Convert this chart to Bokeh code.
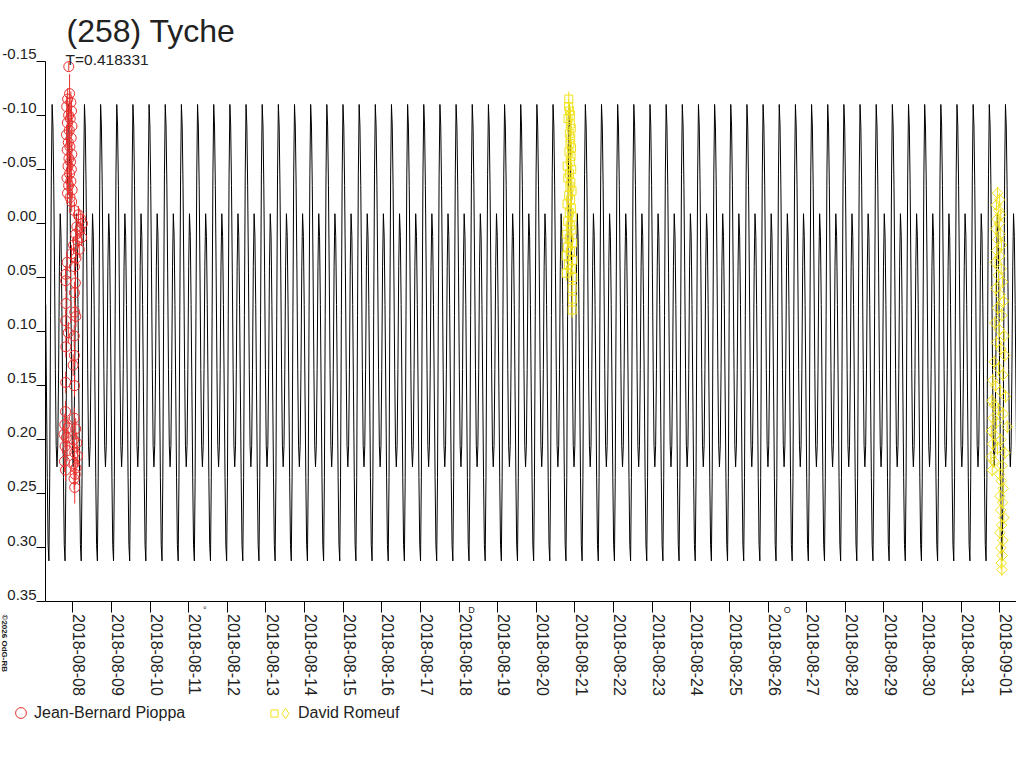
import math
import datetime as dt

from bokeh.plotting import figure
from bokeh.models import (Range1d, FixedTicker, DatetimeAxis, LinearAxis,
                          DatetimeTickFormatter, Label, Legend, LegendItem)
from bokeh.embed import file_html
from bokeh.resources import INLINE

# ---------------- data ----------------
title_text = "(258) Tyche"
period_label = "T=0.418331"
period_days = 0.418331
copyright_text = "\u00a92026 OdG-RB"

# folded model light curve (one rotation, tall maximum at phase 0)
model_epoch = dt.datetime(2018, 8, 8, 17, 17)
model_phase = [0.00, 0.05, 0.10, 0.15, 0.20, 0.25, 0.30, 0.35, 0.40, 0.45,
               0.50, 0.55, 0.60, 0.65, 0.70, 0.75, 0.80, 0.85, 0.90, 0.95]
model_mag = [-0.110, -0.090, -0.035, 0.045, 0.135, 0.205, 0.225, 0.205, 0.135, 0.040,
             -0.009, 0.012, 0.075, 0.155, 0.235, 0.297, 0.312, 0.235, 0.085, -0.045]

# Jean-Bernard Pioppa (hours from 2018-08-08 00:00 UT)
pioppa_base = dt.datetime(2018, 8, 8)
pioppa_hours = [-2.5, -2.0, -3.2, -1.2, -3.8, -0.8, -2.6, -1.6, -3.4, -0.5,
                -2.2, -3.9, -1.0, -2.8, -1.8, -3.5, -0.6, -2.4, -1.4, -3.0,
                -0.9, -2.0, -3.6, -1.2, -2.6, -0.4, -3.3, -1.7, -0.7,
                1.0, 3.5, 5.0, 6.0, 2.5, 4.5, 1.8, 5.5, 3.0, 0.5,
                4.0, -0.8, 2.0, -3.5, 1.0, -4.4,
                -4.4, 1.6, 1.0, -4.2, 1.2, 1.9, -4.4, -2.8, 0.9, -4.3,
                1.0, 0.2, -4.4, 1.1, -4.5, 0.9, -5.0, -3.0, 1.8, -5.5,
                -4.0, 0.5, 2.5, -4.8, -3.5, 1.2, 3.0, -5.2, 0.8, 2.0,
                -4.5, 1.5, 0.8, 1.2]
pioppa_mag = [-0.145, -0.120, -0.115, -0.112, -0.108, -0.104, -0.100, -0.097, -0.093, -0.090,
              -0.086, -0.082, -0.079, -0.075, -0.071, -0.068, -0.064, -0.060, -0.057, -0.053,
              -0.050, -0.046, -0.042, -0.039, -0.035, -0.031, -0.028, -0.024, -0.020,
              -0.012, -0.008, -0.004, 0.000, 0.003, 0.006, 0.010, 0.013, 0.016, 0.020,
              0.024, 0.028, 0.032, 0.036, 0.040, 0.047,
              0.053, 0.055, 0.064, 0.074, 0.082, 0.086, 0.090, 0.101, 0.104, 0.114,
              0.122, 0.131, 0.147, 0.150, 0.174, 0.180, 0.186, 0.189, 0.190, 0.195,
              0.198, 0.200, 0.203, 0.206, 0.210, 0.212, 0.215, 0.220, 0.222, 0.226,
              0.228, 0.232, 0.236, 0.244]
pioppa_err = [0.004, 0.018, 0.010, 0.010, 0.010, 0.010, 0.009, 0.009, 0.009, 0.009,
              0.009, 0.009, 0.009, 0.009, 0.009, 0.009, 0.009, 0.009, 0.009, 0.009,
              0.009, 0.009, 0.009, 0.009, 0.009, 0.009, 0.009, 0.009, 0.009,
              0.008, 0.008, 0.008, 0.008, 0.008, 0.008, 0.008, 0.008, 0.008, 0.008,
              0.008, 0.008, 0.008, 0.008, 0.008, 0.008,
              0.010, 0.010, 0.010, 0.010, 0.010, 0.010, 0.010, 0.010, 0.010, 0.010,
              0.010, 0.010, 0.010, 0.010, 0.010, 0.010, 0.010, 0.010, 0.010, 0.010,
              0.010, 0.010, 0.010, 0.010, 0.010, 0.010, 0.010, 0.010, 0.010, 0.010,
              0.010, 0.010, 0.010, 0.015]

# David Romeuf, night 1 (hours from 2018-08-21 00:00 UT) - squares
romeuf1_base = dt.datetime(2018, 8, 21)
romeuf1_hours = [-3.8, -3.9, -3.3, -2.8, -4.3, -2.9, -2.3, -3.5, -2.6, -3.1,
                 -2.1, -3.7, -2.4, -2.9, -4.8, -2.0, -3.4, -4.4, -2.5, -3.1,
                 -1.8, -3.9, -2.7, -4.9, -2.2, -3.5, -1.7, -4.5, -2.9, -1.9,
                 -5.1, -3.6, -1.5, -4.7, -2.8, -5.4, -1.4, -4.1, -2.3, -5.3,
                 -1.3, -1.7, -1.6, -1.7]
romeuf1_mag = [-0.115, -0.108, -0.104, -0.100, -0.097, -0.092, -0.088, -0.083, -0.079, -0.074,
               -0.070, -0.066, -0.062, -0.057, -0.053, -0.050, -0.046, -0.042, -0.038, -0.034,
               -0.030, -0.026, -0.022, -0.018, -0.014, -0.010, -0.006, -0.002, 0.002, 0.006,
               0.010, 0.014, 0.018, 0.022, 0.026, 0.030, 0.034, 0.038, 0.042, 0.046,
               0.050, 0.060, 0.070, 0.080]
romeuf1_err = [0.007] * 44

# David Romeuf, night 2 (hours from 2018-09-01 00:00 UT) - diamonds
romeuf2_base = dt.datetime(2018, 9, 1)
romeuf2_hours = [-1.4, -0.1, -2.1, -0.7, 0.6, -1.7, -0.3, -2.4, 0.3, -1.2,
                 1.1, -1.9, 0.0, -2.9, 0.9, -0.9, 1.7, -2.5, 0.1, 2.3,
                 -1.5, 1.3, -3.1, -0.4, 2.7, -2.1, 0.7, 3.1, -3.5, -0.7,
                 1.9, -4.3, -2.7, 0.3, 3.6, -4.9, -3.5, -0.9, 2.1, -4.2,
                 -2.1, 4.6, -5.3, -3.1, 0.7, -4.5, -1.5, 3.1, -5.5, -3.7,
                 1.5, -4.7, -0.1, 0.9, 2.1, 0.1, 1.7, 0.6, 2.5, 1.1,
                 0.1, 1.9, 0.7, 1.5, 0.9, 1.3]
romeuf2_mag = [-0.028, -0.022, -0.017, -0.012, -0.008, -0.004, 0.000, 0.005, 0.010, 0.015,
               0.020, 0.025, 0.030, 0.036, 0.042, 0.048, 0.054, 0.060, 0.066, 0.072,
               0.078, 0.085, 0.092, 0.098, 0.104, 0.110, 0.116, 0.122, 0.128, 0.134,
               0.140, 0.145, 0.150, 0.155, 0.160, 0.164, 0.168, 0.172, 0.176, 0.180,
               0.184, 0.188, 0.192, 0.196, 0.200, 0.204, 0.208, 0.212, 0.216, 0.220,
               0.224, 0.228, 0.232, 0.238, 0.245, 0.252, 0.258, 0.265, 0.272, 0.279,
               0.286, 0.293, 0.300, 0.307, 0.314, 0.320]
romeuf2_err = [0.006] * 66

observer_names = ["Jean-Bernard Pioppa", "David Romeuf"]

# moon phases shown under the axis
moon_times = [dt.datetime(2018, 8, 11, 9, 58), dt.datetime(2018, 8, 18, 7, 48),
              dt.datetime(2018, 8, 26, 11, 56)]
moon_symbols = ["\u00b0", "D", "O"]

# axes
y_ticks = [-0.15, -0.10, -0.05, 0.00, 0.05, 0.10, 0.15, 0.20, 0.25, 0.30, 0.35]
y_tick_labels = ["-0.15", "-0.10", "-0.05", "0.00", "0.05", "0.10", "0.15", "0.20", "0.25", "0.30", "0.35"]
y_axis_bounds = (-0.15, 0.35)
x_tick_days = [dt.datetime(2018, 8, 8) + dt.timedelta(days=i) for i in range(25)]
x_axis_start = dt.datetime(2018, 8, 8) - dt.timedelta(days=0.7068)
x_view_start = dt.datetime(2018, 8, 8) - dt.timedelta(days=1.8718)
x_view_end = dt.datetime(2018, 8, 8) + dt.timedelta(days=24.4324)
y_view = (0.48915, -0.20612)

# ---------------- helpers ----------------
EPOCH0 = dt.datetime(1970, 1, 1)


def ms(d):
    return (d - EPOCH0).total_seconds() * 1000.0


def hours_to_ms(base, hours):
    return [ms(base + dt.timedelta(hours=h)) for h in hours]


# tile the folded model over the covered cycles (from the y axis onward)
model_x, model_y = [], []
for k in range(-4, 61):
    for ph, m in zip(model_phase, model_mag):
        t = model_epoch + dt.timedelta(days=(k + ph) * period_days)
        if t >= x_axis_start:
            model_x.append(ms(t))
            model_y.append(m)

red = "#e8302e"
yellow = "#f2e21c"
txt = "#222222"
FONT = "Liberation Sans"

W, H = 1016, 752
p = figure(width=W, height=H, output_backend="svg", toolbar_location=None,
           x_range=Range1d(ms(x_view_start), ms(x_view_end)), y_range=Range1d(*y_view),
           x_axis_type=None, y_axis_type=None, min_border=0)
p.outline_line_color = None
p.background_fill_color = "white"
p.border_fill_color = "white"
for g in p.grid:
    g.visible = False

# y axis line + tick marks
yax = LinearAxis(fixed_location=ms(x_axis_start), bounds=y_axis_bounds,
                 ticker=FixedTicker(ticks=[], minor_ticks=y_ticks),
                 major_tick_out=0, major_tick_in=0, major_tick_line_color=None,
                 minor_tick_out=9, minor_tick_in=0, minor_tick_line_color="black",
                 axis_line_color="black")
p.add_layout(yax, "left")
# y tick labels, sitting just above their tick marks
label_shift = 0.0068
y_label_pos = [v - label_shift for v in y_ticks]
ylab = LinearAxis(fixed_location=ms(x_axis_start),
                  ticker=FixedTicker(ticks=y_label_pos, minor_ticks=[]),
                  major_label_overrides=dict(zip(y_label_pos, y_tick_labels)),
                  major_tick_out=0, major_tick_in=0, major_tick_line_color=None,
                  minor_tick_line_color=None, axis_line_color=None,
                  major_label_standoff=9, major_label_text_font=FONT,
                  major_label_text_font_size="15px", major_label_text_color=txt)
p.add_layout(ylab, "left")

# x axis: tick marks at midnight (minor), labels slightly to the right (major)
day_ms = [ms(d) for d in x_tick_days]
lab_ms = [ms(d + dt.timedelta(days=0.17)) for d in x_tick_days]
fmt = DatetimeTickFormatter(microseconds="%Y-%m-%d", milliseconds="%Y-%m-%d", seconds="%Y-%m-%d",
                            minsec="%Y-%m-%d", minutes="%Y-%m-%d", hourmin="%Y-%m-%d",
                            hours="%Y-%m-%d", days="%Y-%m-%d", months="%Y-%m-%d", years="%Y-%m-%d")
xax = DatetimeAxis(fixed_location=0.35, bounds=(ms(x_axis_start), ms(x_view_end)),
                   ticker=FixedTicker(ticks=lab_ms, minor_ticks=day_ms), formatter=fmt,
                   major_tick_out=0, major_tick_in=0, major_tick_line_color=None,
                   minor_tick_out=11, minor_tick_in=0, minor_tick_line_color="black",
                   axis_line_color="black",
                   major_label_orientation=-math.pi / 2, major_label_standoff=1,
                   major_label_text_font=FONT, major_label_text_font_size="16px",
                   major_label_text_color=txt)
p.add_layout(xax, "below")

# model
p.line(model_x, model_y, line_color="black", line_width=1)

# observations
px_ = hours_to_ms(pioppa_base, pioppa_hours)
p.segment(x0=px_, y0=[m - e for m, e in zip(pioppa_mag, pioppa_err)],
          x1=px_, y1=[m + e for m, e in zip(pioppa_mag, pioppa_err)], line_color=red, line_width=1)
r_red = p.scatter(px_, pioppa_mag, marker="circle", size=10, line_color=red, fill_color=None, line_width=1)

r1x = hours_to_ms(romeuf1_base, romeuf1_hours)
p.segment(x0=r1x, y0=[m - e for m, e in zip(romeuf1_mag, romeuf1_err)],
          x1=r1x, y1=[m + e for m, e in zip(romeuf1_mag, romeuf1_err)], line_color=yellow, line_width=1)
r_sq = p.scatter(r1x, romeuf1_mag, marker="square", size=8, line_color=yellow, fill_color=None, line_width=1)

r2x = hours_to_ms(romeuf2_base, romeuf2_hours)
p.segment(x0=r2x, y0=[m - e for m, e in zip(romeuf2_mag, romeuf2_err)],
          x1=r2x, y1=[m + e for m, e in zip(romeuf2_mag, romeuf2_err)], line_color=yellow, line_width=1)
p.scatter(r2x, romeuf2_mag, marker="square", angle=math.pi / 4, size=7.5,
          line_color=yellow, fill_color=None, line_width=1)
# legend swatch for the diamond series (same data, not drawn in the plot)
r_dm_key = p.scatter(r2x, romeuf2_mag, marker="diamond", size=11, line_color=yellow,
                     fill_color=None, line_width=1, visible=False)


def page_label(text, px, py, size, **kw):
    # px, py: position in the picture, measured from its top-left corner
    return Label(x=px, y=H - py, x_units="screen", y_units="screen", text=text,
                 text_font=FONT, text_font_size=size, text_color=txt, **kw)


# titles
p.add_layout(page_label(title_text, 66, 30, "32px", text_align="left", text_baseline="middle"))
p.add_layout(page_label(period_label, 65, 59, "15.5px", text_align="left", text_baseline="middle"))

# moon phases
for t, s in zip(moon_times, moon_symbols):
    p.add_layout(Label(x=ms(t), y=H - 609, x_units="data", y_units="screen", text=s,
                       text_font=FONT, text_font_size="9px", text_color=txt,
                       text_align="center", text_baseline="middle"))

# copyright
p.add_layout(page_label(copyright_text, 4, 614, "8px", angle=-math.pi / 2, text_font_style="bold",
                        text_align="left", text_baseline="middle"))

# legends
common = dict(orientation="horizontal", padding=0, margin=0, spacing=0,
              border_line_color=None, background_fill_alpha=0, click_policy="none",
              label_text_font=FONT, label_text_font_size="16px", label_text_color=txt)
legA = Legend(items=[LegendItem(label=observer_names[0], renderers=[r_red])],
              location=(7, H - 726),
              glyph_width=27, glyph_height=27, label_standoff=-3, **common)
legB1 = Legend(items=[LegendItem(label="", renderers=[r_sq])],
               location=(265, H - 722),
               glyph_width=18, glyph_height=18, label_standoff=0, **common)
legB2 = Legend(items=[LegendItem(label=observer_names[1], renderers=[r_dm_key])],
               location=(272, H - 726),
               glyph_width=26, glyph_height=26, label_standoff=0, **common)
p.add_layout(legA)
p.add_layout(legB1)
p.add_layout(legB2)

open("out.html", "w").write(file_html(p, INLINE))
